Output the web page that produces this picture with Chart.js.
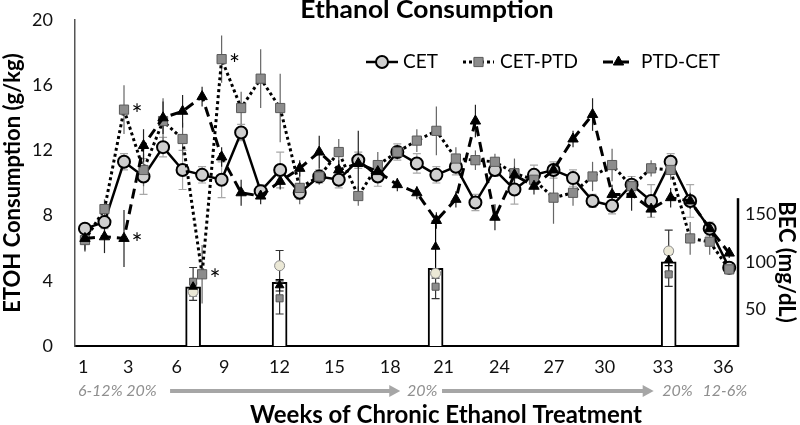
<!DOCTYPE html>
<html><head><meta charset="utf-8">
<script src="https://cdn.jsdelivr.net/npm/chart.js@4.4.1/dist/chart.umd.min.js"></script>
<style>html,body{margin:0;padding:0;background:#fff}#wrap{width:800px;height:425px}</style>
</head><body><div id="wrap"><canvas id="c" width="800" height="425"></canvas></div>
<script>
// ---------- data ----------
const weekIndex = [1,2,3,4,5,6,7,8,9,10,11,12,13,14,15,16,17,18,19,20,21,22,23,24,25,26,27,28,29,30,31,32,33,34];
const xTickLabels = ['1','3','6','9','12','15','18','21','24','27','30','33','36'];
const xTickAt = [0.91,3.22,5.70,8.13,10.96,13.78,16.64,19.37,22.23,25.02,27.62,30.61,33.70];
const becTickValues = [50,100,150];

const cetMean    = [7.2,7.6,11.3,10.4,12.2,10.8,10.5,10.2,13.1,9.5,10.8,9.4,10.4,10.2,11.4,10.4,11.9,11.2,10.5,11.0,8.8,10.8,9.6,10.5,10.8,10.3,8.9,8.6,9.9,8.9,11.3,8.9,7.2,4.8];
const cetErr     = [0.3,0.4,0.5,1.1,0.6,1.2,0.5,1.1,0.5,0.4,1.1,0.4,0.4,0.5,0.5,0.6,0.5,0.6,0.5,0.5,0.5,0.4,0.9,0.6,0.5,0.5,0.4,0.5,0.5,1.0,0.5,1.0,0.4,0.3];
const cetPtdMean = [6.5,8.4,14.5,10.8,13.8,12.7,4.4,17.6,14.6,16.4,14.6,9.7,10.4,11.9,9.2,11.1,11.9,12.6,13.2,11.5,11.4,11.3,10.6,10.2,9.1,9.4,10.4,11.1,9.8,10.9,10.8,6.6,6.4,4.7];
const cetPtdErr  = [0.6,0.6,1.5,1.0,1.4,1.0,1.8,1.45,1.0,1.8,2.1,1.0,0.5,0.8,0.6,0.8,0.4,0.7,1.5,0.7,0.6,0.5,0.9,0.5,1.6,0.8,0.9,1.0,0.6,0.5,0.6,1.0,0.8,0.3];
const ptdCetMean = [6.6,6.7,6.6,12.3,14.0,14.4,15.3,11.6,9.4,9.2,10.1,10.9,11.9,10.8,11.2,10.7,9.9,9.4,7.7,9.0,13.8,7.9,10.5,9.8,10.8,12.7,14.2,9.3,9.3,8.4,9.1,8.9,7.2,5.7];
const ptdCetErr  = [0.8,1.0,1.75,1.0,1.0,1.0,0.6,0.6,0.8,0.5,0.5,0.5,1.0,0.6,2.0,0.5,0.4,0.4,0.5,0.5,1.0,0.8,0.5,0.5,0.4,0.5,1.0,0.6,1.0,0.5,0.6,0.5,0.4,0.3];

const becX = [6.54,10.97,18.96,30.9];
const becBar = [73.8,78.4,93.2,100.1];
const becCET = [68.5,95.9,87.9,111.4];        const becCETErr = [9,16,5,22];
const becCETPTD = [79,61.6,73.8,86.8];        const becCETPTDErr = [15,16.5,12.6,12.6];
const becPTDCET = [73.8,75.3,115.9,101.9];    const becPTDCETErr = [8,6,27,6];

const starsCETPTD = [3,7,8];
const starsPTDCET = [3];

const concLabels = ['6-12% 20%','20%','20%','12-6%'];
const concAt = [0.64,17.49,30.57,32.63];
const arrowSpans = [[5.36,17.15],[19.29,30.13]];

// ---------- chart ----------
Chart.defaults.font.family = 'Lato';
const pts = (xs, ys) => xs.map((x,i)=>({x:x, y:ys[i]}));

const datasets = [
  {label:'CET', type:'line', data:pts(weekIndex,cetMean), errors:cetErr, errColor:'#a8a8a8', errCap:4,
   borderColor:'#000', borderWidth:2.5, pointStyle:'circle', pointRadius:6, pointBackgroundColor:'#cfcfcf',
   pointBorderColor:'#000', pointBorderWidth:2, order:5, yAxisID:'y'},
  {label:'CET-PTD', type:'line', data:pts(weekIndex,cetPtdMean), errors:cetPtdErr, errColor:'#666', errCap:0,
   borderColor:'#000', borderWidth:3, borderDash:[3,3], pointStyle:'rect', pointRadius:6.5, pointBackgroundColor:'#8c8c8c',
   pointBorderColor:'#5a5a5a', pointBorderWidth:1, order:4, yAxisID:'y'},
  {label:'PTD-CET', type:'line', data:pts(weekIndex,ptdCetMean), errors:ptdCetErr, errColor:'#222', errCap:0,
   borderColor:'#000', borderWidth:3, borderDash:[10,6], pointStyle:'triangle', pointRadius:6, pointBackgroundColor:'#000',
   pointBorderColor:'#000', pointBorderWidth:1, order:3, yAxisID:'y'},
  {label:'BEC', type:'bar', data:pts(becX,becBar), backgroundColor:'#fff', borderColor:'#000', borderWidth:2,
   barThickness:15, order:10, yAxisID:'y2'},
  {label:'BEC CET', type:'line', showLine:false, data:pts(becX,becCET), errors:becCETErr, errColor:'#333', errCap:4,
   pointStyle:'circle', pointRadius:5, pointBackgroundColor:'#ebe8d6', pointBorderColor:'#8a8a8a', pointBorderWidth:1, order:2, yAxisID:'y2'},
  {label:'BEC CET-PTD', type:'line', showLine:false, data:pts(becX,becCETPTD), errors:becCETPTDErr, errColor:'#333', errCap:4,
   pointStyle:'rect', pointRadius:5, pointBackgroundColor:'#8c8c8c', pointBorderColor:'#555', pointBorderWidth:1, order:2, yAxisID:'y2'},
  {label:'BEC PTD-CET', type:'line', showLine:false, data:pts(becX,becPTDCET), errors:becPTDCETErr, errColor:'#000', errCap:4,
   pointStyle:'triangle', pointRadius:5, pointBackgroundColor:'#000', pointBorderColor:'#000', pointBorderWidth:1, order:1, yAxisID:'y2'}
];

function drawErrors(chart){
  const ctx = chart.ctx;
  chart.data.datasets.forEach((ds, di) => {
    if (!ds.errors) return;
    const meta = chart.getDatasetMeta(di);
    const ys = chart.scales[ds.yAxisID];
    ctx.save();
    ctx.strokeStyle = ds.errColor; ctx.lineWidth = 1.2; ctx.setLineDash([]);
    meta.data.forEach((pt, i) => {
      const v = ds.data[i].y, e = ds.errors[i];
      const t = ys.getPixelForValue(v + e), b = ys.getPixelForValue(v - e);
      ctx.beginPath(); ctx.moveTo(pt.x, t); ctx.lineTo(pt.x, b);
      if (ds.errCap) { ctx.moveTo(pt.x - ds.errCap, t); ctx.lineTo(pt.x + ds.errCap, t);
                       ctx.moveTo(pt.x - ds.errCap, b); ctx.lineTo(pt.x + ds.errCap, b); }
      ctx.stroke();
    });
    ctx.restore();
  });
}

function stretchText(ctx, txt, x, y, sx){
  ctx.save(); ctx.translate(x, y); ctx.scale(sx, 1); ctx.fillText(txt, 0, 0); ctx.restore();
}

const decor = {
  id:'decor',
  afterDatasetDraw(chart, args){
    if (chart.data.datasets[args.index].label === 'BEC') drawErrors(chart);
  },
  afterDatasetsDraw(chart){
    const ctx = chart.ctx;
    ctx.save();
    ctx.fillStyle = '#000'; ctx.font = '26px Lato'; ctx.textAlign = 'center'; ctx.textBaseline = 'middle';
    const star = (di, list) => { const meta = chart.getDatasetMeta(di);
      list.forEach(w => { const p = meta.data[weekIndex.indexOf(w)]; ctx.fillText('*', p.x + 13, p.y + 6); }); };
    star(1, starsCETPTD); star(2, starsPTDCET);
    ctx.restore();
  },
  afterDraw(chart){
    const ctx = chart.ctx, ca = chart.chartArea, xs = chart.scales.x, y2 = chart.scales.y2;
    ctx.save();
    // right axis line (partial)
    ctx.strokeStyle = '#000'; ctx.lineWidth = 2.5;
    ctx.beginPath(); ctx.moveTo(ca.right, y2.getPixelForValue(167)); ctx.lineTo(ca.right, ca.bottom + 1); ctx.stroke();
    // title
    ctx.fillStyle = '#000'; ctx.textAlign = 'center'; ctx.textBaseline = 'alphabetic';
    ctx.font = 'bold 24px Lato'; stretchText(ctx, 'Ethanol Consumption', 427, 18, 1.1);
    // x title
    ctx.font = 'bold 24px Lato'; ctx.fillText('Weeks of Chronic Ethanol Treatment', 446, 423);
    // right title
    ctx.textBaseline = 'middle'; ctx.font = 'bold 22px Lato';
    ctx.save(); ctx.translate(786, 262); ctx.rotate(Math.PI/2); ctx.fillText('BEC (mg/dL)', 0, 0); ctx.restore();
    // concentration annotations
    ctx.fillStyle = '#8f8f8f'; ctx.font = 'italic 16px Lato'; ctx.textAlign = 'left';
    concLabels.forEach((t,i) => ctx.fillText(t, xs.getPixelForValue(concAt[i]), 391));
    ctx.strokeStyle = '#a6a6a6'; ctx.fillStyle = '#a6a6a6'; ctx.lineWidth = 4;
    arrowSpans.forEach(s => { const a = xs.getPixelForValue(s[0]), b = xs.getPixelForValue(s[1]);
      ctx.beginPath(); ctx.moveTo(a, 391); ctx.lineTo(b - 9, 391); ctx.stroke();
      ctx.beginPath(); ctx.moveTo(b, 391); ctx.lineTo(b - 11, 385); ctx.lineTo(b - 11, 397); ctx.closePath(); ctx.fill(); });
    // legend
    const legY = 62;
    const items = [
      {di:0, x0:366, x1:398, tx:403},
      {di:1, x0:463, x1:494, tx:500},
      {di:2, x0:603, x1:634, tx:641}
    ];
    items.forEach(it => {
      const ds = chart.data.datasets[it.di];
      ctx.strokeStyle = ds.borderColor; ctx.lineWidth = ds.borderWidth; ctx.setLineDash(ds.borderDash || []);
      ctx.beginPath(); ctx.moveTo(it.x0, legY); ctx.lineTo(it.x1, legY); ctx.stroke();
      ctx.setLineDash([]);
      ctx.fillStyle = ds.pointBackgroundColor; ctx.strokeStyle = ds.pointBorderColor; ctx.lineWidth = ds.pointBorderWidth;
      Chart.helpers.drawPoint(ctx, {pointStyle:ds.pointStyle, radius:ds.pointRadius, rotation:0, borderWidth:ds.pointBorderWidth}, (it.x0+it.x1)/2, legY);
      ctx.fillStyle = '#000'; ctx.font = '19px Lato'; ctx.textAlign = 'left'; ctx.textBaseline = 'middle';
      ctx.fillText(ds.label, it.tx, legY);
    });
    ctx.restore();
  }
};

function zeroPad(s){ s.paddingLeft = 0; s.paddingRight = 0; s.paddingTop = 0; s.paddingBottom = 0; }

new Chart(document.getElementById('c'), {
  type:'line',
  data:{datasets:datasets},
  options:{
    responsive:false, animation:false, devicePixelRatio:1,
    layout:{padding:{top:20,left:0,right:0,bottom:0}},
    plugins:{legend:{display:false}, tooltip:{enabled:false}, title:{display:false}},
    scales:{
      x:{type:'linear', min:0.49, max:34.45, offset:false, grid:{display:false, drawTicks:false, offset:false},
         border:{display:true, color:'#000', width:2},
         afterBuildTicks:s => { s.ticks = xTickAt.map(v => ({value:v})); },
         afterFit:s => { s.height = 79; zeroPad(s); },
         ticks:{autoSkip:false, maxRotation:0, padding:10, color:'#111', font:{size:18},
                callback:(v,i) => xTickLabels[i]}},
      y:{type:'linear', position:'left', min:0, max:20, grid:{display:false, drawTicks:false},
         border:{display:true, color:'#555', width:1.5},
         afterFit:s => { s.width = 75; zeroPad(s); },
         ticks:{stepSize:4, padding:22, color:'#111', font:{size:18}},
         title:{display:true, text:'ETOH Consumption (g/kg)', color:'#000', font:{size:22, weight:'bold'}, padding:{top:0,bottom:0}}},
      y2:{type:'linear', position:'right', min:11.4, max:354.5, grid:{display:false, drawTicks:false},
          border:{display:false},
          afterBuildTicks:s => { s.ticks = becTickValues.map(v => ({value:v})); },
          afterFit:s => { s.width = 62; zeroPad(s); },
          ticks:{padding:7, color:'#111', font:{size:18}}}
    }
  },
  plugins:[decor]
});
</script></body></html>
